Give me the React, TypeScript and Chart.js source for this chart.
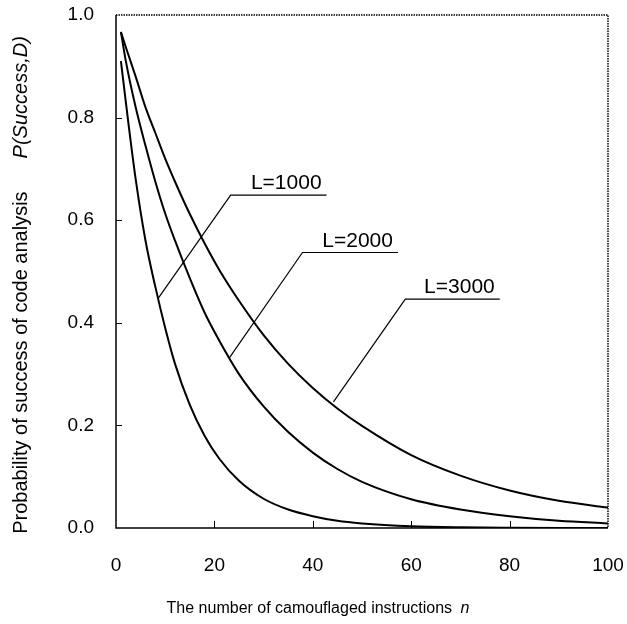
import React, { useEffect, useRef } from "react";
import { Chart, registerables } from "chart.js";

Chart.register(...registerables);

// Number of camouflaged instructions n
const nValues = [1, 2, 4, 6, 8, 10, 12, 15, 18, 21, 25, 30, 35, 40, 45, 50, 60, 70, 80, 90, 100];
// P(Success, D) for each program length L
const pL1000 = [0.91, 0.83, 0.68, 0.56, 0.47, 0.39, 0.32, 0.24, 0.18, 0.135, 0.092, 0.057, 0.036, 0.023, 0.014, 0.009, 0.0035, 0.0013, 0.0005, 0.0002, 0.0001];
const pL2000 = [0.967, 0.91, 0.82, 0.745, 0.675, 0.613, 0.56, 0.487, 0.42, 0.365, 0.3, 0.237, 0.187, 0.147, 0.115, 0.09, 0.056, 0.036, 0.023, 0.014, 0.009];
const pL3000 = [0.967, 0.937, 0.88, 0.82, 0.77, 0.72, 0.675, 0.612, 0.555, 0.503, 0.443, 0.376, 0.32, 0.273, 0.233, 0.199, 0.142, 0.102, 0.073, 0.053, 0.04];

const seriesLabels = ["L=1000", "L=2000", "L=3000"];
const seriesValues = [pL1000, pL2000, pL3000];

const xTickStep = 20;
const yTickStep = 0.2;

// Callout annotations (data coordinates)
const calloutTip = [[8.6, 0.448], [23.0, 0.331], [44.2, 0.246]];
const calloutElbow = [[23.3, 0.649], [37.9, 0.537], [58.8, 0.446]];
const calloutEndX = [42.8, 57.3, 78.0];

const xTitle = "The number of camouflaged instructions ";
const xTitleItalic = "n";
const yTitle = "Probability of success of code analysis";
const yTitleItalic = "P(Success,D)";

const FONT = '"Liberation Sans", Arial, Helvetica, sans-serif';

const decorPlugin = {
  id: "decor",
  afterDraw(chart: any) {
    const ctx = chart.ctx;
    const { left, right, top, bottom } = chart.chartArea;
    const xs = chart.scales.x;
    const ys = chart.scales.y;
    ctx.save();
    ctx.strokeStyle = "#000";
    // solid left and bottom axes
    ctx.lineWidth = 1.5;
    ctx.setLineDash([]);
    ctx.beginPath();
    ctx.moveTo(left, top);
    ctx.lineTo(left, bottom);
    ctx.lineTo(right, bottom);
    ctx.stroke();
    // dotted top and right frame
    ctx.setLineDash([1.5, 1]);
    ctx.beginPath();
    ctx.moveTo(left, top);
    ctx.lineTo(right, top);
    ctx.lineTo(right, bottom);
    ctx.stroke();
    ctx.setLineDash([]);
    // inward ticks
    ctx.lineWidth = 1;
    ys.ticks.forEach((t: any) => {
      if (t.value <= ys.min || t.value >= ys.max) return;
      const y = Math.round(ys.getPixelForValue(t.value)) + 0.5;
      ctx.beginPath();
      ctx.moveTo(left, y);
      ctx.lineTo(left + 6, y);
      ctx.stroke();
    });
    xs.ticks.forEach((t: any) => {
      if (t.value <= xs.min || t.value >= xs.max) return;
      const x = Math.round(xs.getPixelForValue(t.value)) + 0.5;
      ctx.beginPath();
      ctx.moveTo(x, bottom);
      ctx.lineTo(x, bottom - 7);
      ctx.stroke();
    });
    // callouts
    ctx.lineWidth = 1.2;
    ctx.fillStyle = "#000";
    ctx.font = `21px ${FONT}`;
    ctx.textAlign = "right";
    ctx.textBaseline = "alphabetic";
    seriesLabels.forEach((lab, i) => {
      const tx = xs.getPixelForValue(calloutTip[i][0]);
      const ty = ys.getPixelForValue(calloutTip[i][1]);
      const ex = xs.getPixelForValue(calloutElbow[i][0]);
      const ey = ys.getPixelForValue(calloutElbow[i][1]);
      const endX = xs.getPixelForValue(calloutEndX[i]);
      ctx.beginPath();
      ctx.moveTo(tx, ty);
      ctx.lineTo(ex, ey);
      ctx.lineTo(endX, ey);
      ctx.stroke();
      ctx.fillText(lab, endX - 5, ey - 6);
    });
    // x title
    ctx.font = `16px ${FONT}`;
    const w1 = ctx.measureText(xTitle).width;
    ctx.font = `italic 16px ${FONT}`;
    const w2 = ctx.measureText(xTitleItalic).width;
    const cx = 318;
    const xStart = cx - (w1 + w2 + 4) / 2;
    ctx.textAlign = "left";
    ctx.textBaseline = "middle";
    ctx.font = `16px ${FONT}`;
    ctx.fillText(xTitle, xStart, 609);
    ctx.font = `italic 16px ${FONT}`;
    ctx.fillText(xTitleItalic, xStart + w1 + 4, 609);
    // y title (rotated)
    ctx.font = `20px ${FONT}`;
    const h1 = ctx.measureText(yTitle).width;
    ctx.font = `italic 20px ${FONT}`;
    const h2 = ctx.measureText(yTitleItalic).width;
    const gap = 33;
    const total = h1 + gap + h2;
    const cy = 285;
    ctx.translate(21, cy + total / 2);
    ctx.rotate(-Math.PI / 2);
    ctx.font = `20px ${FONT}`;
    ctx.fillText(yTitle, 0, 0);
    ctx.font = `italic 20px ${FONT}`;
    ctx.fillText(yTitleItalic, h1 + gap, 0);
    ctx.restore();
  },
};

export default function App() {
  const canvasRef = useRef<HTMLCanvasElement | null>(null);

  useEffect(() => {
    if (!canvasRef.current) return;
    const chart = new Chart(canvasRef.current, {
      type: "line",
      data: {
        datasets: seriesValues.map((vals, i) => ({
          label: seriesLabels[i],
          data: nValues.map((n, j) => ({ x: n, y: vals[j] })),
          borderColor: "#000",
          borderWidth: 2,
          pointRadius: 0,
          fill: false,
          cubicInterpolationMode: "monotone" as const,
        })),
      },
      options: {
        animation: false,
        responsive: true,
        maintainAspectRatio: false,
        layout: { padding: { top: 15, right: 19, left: 0, bottom: 0 } },
        plugins: {
          legend: { display: false },
          tooltip: { enabled: false },
        },
        scales: {
          x: {
            type: "linear",
            min: 0,
            max: 100,
            grid: { display: false, drawTicks: false },
            border: { display: false },
            ticks: {
              stepSize: xTickStep,
              color: "#000",
              padding: 26,
              maxRotation: 0,
              font: { family: FONT, size: 19 },
            },
            afterFit: (s: any) => {
              s.height = 96;
              s.paddingLeft = 0;
              s.paddingRight = 0;
            },
          },
          y: {
            type: "linear",
            min: 0,
            max: 1,
            grid: { display: false, drawTicks: false },
            border: { display: false },
            ticks: {
              stepSize: yTickStep,
              color: "#000",
              padding: 22,
              font: { family: FONT, size: 19 },
              callback: (v: any) => Number(v).toFixed(1),
            },
            afterFit: (s: any) => {
              s.width = 116;
              s.paddingTop = 0;
              s.paddingBottom = 0;
            },
          },
        },
      },
      plugins: [decorPlugin],
    });
    return () => chart.destroy();
  }, []);

  return (
    <div style={{ position: "absolute", left: 0, top: 0, width: 627, height: 624, background: "#fff" }}>
      <canvas ref={canvasRef} />
    </div>
  );
}
